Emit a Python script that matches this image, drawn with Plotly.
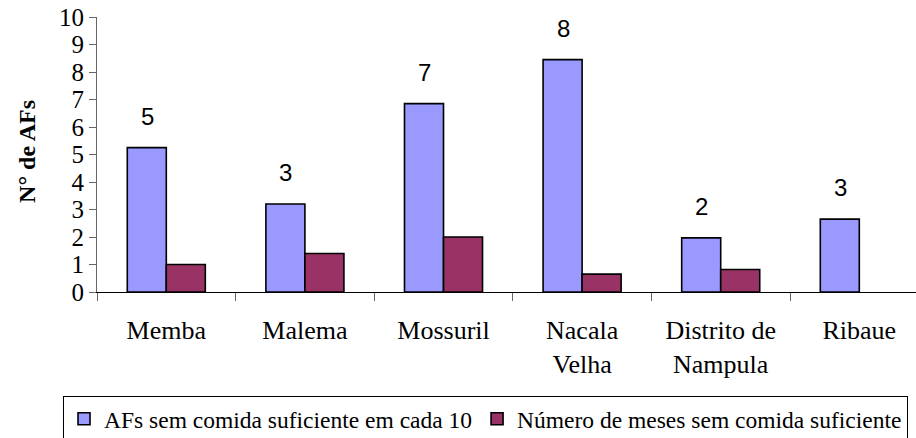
import plotly.graph_objects as go

categories = ["Memba", "Malema", "Mossuril", "Nacala<br>Velha", "Distrito de<br>Nampula", "Ribaue"]
afs_sem_comida = [5.25, 3.2, 6.85, 8.45, 1.97, 2.65]
meses_sem_comida = [1.0, 1.4, 2.0, 0.65, 0.82, None]
labels_afs = ["5", "3", "7", "8", "2", "3"]
y_ticks = list(range(0, 11))
y_title = "N° de AFs"

serif = "Liberation Serif"
sans = "Liberation Sans"

fig = go.Figure()
fig.add_trace(go.Bar(
    x=categories, y=afs_sem_comida, name="AFs sem comida suficiente em cada 10",
    marker=dict(color="#9999FF", line=dict(color="black", width=1.6)),
))
fig.add_trace(go.Bar(
    x=categories, y=meses_sem_comida, name="Número de meses sem comida suficiente",
    marker=dict(color="#993366", line=dict(color="black", width=1.6)),
))

for c, v, t in zip(categories, afs_sem_comida, labels_afs):
    fig.add_annotation(x=c, y=v, text=t, showarrow=False, xref="x", yref="y",
                       xshift=-19, yshift=16, yanchor="bottom",
                       font=dict(family=sans, size=24, color="black"))

# y-axis title as a rotated annotation
fig.add_annotation(x=-0.0855, y=0.513, xref="paper", yref="paper", text=y_title,
                   textangle=-90, showarrow=False, xanchor="center", yanchor="middle",
                   font=dict(family=serif, size=24, color="black", weight="bold"))

fig.update_layout(
    width=916, height=438,
    margin=dict(l=97, r=0, t=17, b=146, autoexpand=False),
    plot_bgcolor="white", paper_bgcolor="white",
    barmode="group", bargap=0.437, bargroupgap=0,
    showlegend=True,
    legend=dict(orientation="h", x=-0.0415, y=-0.378, xanchor="left", yanchor="top",
                bgcolor="white", bordercolor="black", borderwidth=1,
                font=dict(family=serif, size=23.5, color="black"),
                itemwidth=30, traceorder="normal"),
    font=dict(family=serif, color="black"),
)
fig.update_xaxes(
    range=[-0.5, 5.409], showline=True, linecolor="black", linewidth=1,
    ticks="outside", tickson="boundaries", ticklen=8, tickcolor="#666",
    tickfont=dict(family=serif, size=26, color="black"),
    ticklabelstandoff=15, showgrid=False, zeroline=False, automargin=False,
    ticklabeloverflow="allow",
)
fig.update_yaxes(
    range=[0, 10], tickvals=y_ticks, showline=True, linecolor="#666", linewidth=1,
    ticks="outside", ticklen=7, tickcolor="#666",
    tickfont=dict(family=serif, size=25, color="black"),
    showgrid=False, zeroline=False, automargin=False,
    ticklabeloverflow="allow",
)

fig.write_html("out.html", config={"displayModeBar": False},
               post_script="document.body.style.margin='0';")
